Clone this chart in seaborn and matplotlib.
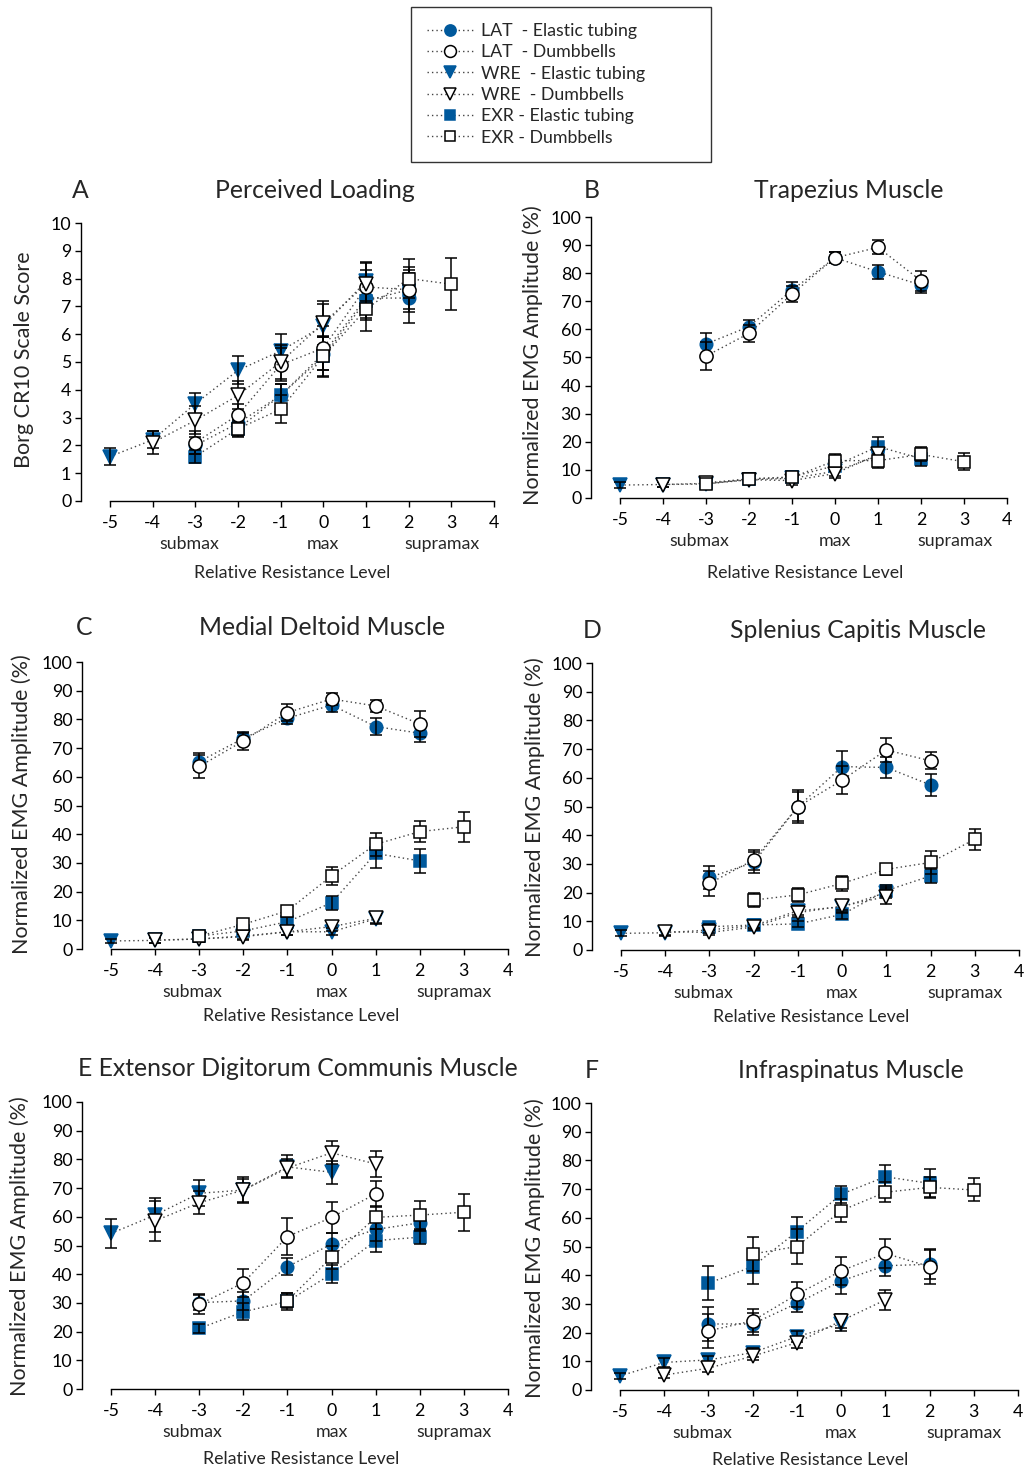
import numpy as np
import pandas as pd
import seaborn as sns
import matplotlib.pyplot as plt
from matplotlib.lines import Line2D

# relative resistance levels (x axis)
LEVELS = [-5, -4, -3, -2, -1, 0, 1, 2, 3]
_ = None

# A - Perceived Loading (Borg CR10)
A_LAT_E = [_, _, 2.0, 2.8, 3.8, 5.3, 7.3, 7.3, _]
A_LAT_E_SE = [_, _, .3, .3, .4, .6, .7, .9, _]
A_LAT_D = [_, _, 2.1, 3.1, 4.9, 5.5, 7.7, 7.6, _]
A_LAT_D_SE = [_, _, .4, .4, .6, .8, .6, .7, _]
A_WRE_E = [1.6, 2.2, 3.5, 4.7, 5.4, 6.3, 7.9, _, _]
A_WRE_E_SE = [.3, .3, .4, .5, .6, .8, .7, _, _]
A_WRE_D = [_, 2.1, 2.9, 3.8, 5.0, 6.4, 7.8, _, _]
A_WRE_D_SE = [_, .4, .5, .5, .6, .8, .75, _, _]
A_EXR_E = [_, _, 1.6, 2.6, 3.8, 5.2, 7.2, 7.6, _]
A_EXR_E_SE = [_, _, .25, .25, .4, .7, .7, .8, _]
A_EXR_D = [_, _, _, 2.6, 3.3, 5.2, 6.9, 8.0, 7.8]
A_EXR_D_SE = [_, _, _, .3, .5, .75, .8, .7, .93]

# B - Trapezius
B_LAT_E = [_, _, 54.8, 61.0, 74.0, 85.5, 80.5, 75.8, _]
B_LAT_E_SE = [_, _, 4, 2.5, 3, 2, 2.5, 3, _]
B_LAT_D = [_, _, 50.5, 58.6, 72.6, 85.5, 89.2, 77.3, _]
B_LAT_D_SE = [_, _, 5, 3, 3, 2, 2.5, 3.5, _]
B_WRE_E = [4.6, 4.8, 5.0, 6.5, 7.0, 9.5, 15.0, _, _]
B_WRE_E_SE = [1, 1, 1, 1, 1, 1.5, 2, _, _]
B_WRE_D = [_, 4.8, 5.2, 6.5, 6.2, 8.7, 15.5, _, _]
B_WRE_D_SE = [_, 1, 1, 1, 1.5, 1.5, 2, _, _]
B_EXR_E = [_, _, 5.4, 6.8, 7.5, 11.5, 18.3, 14.0, _]
B_EXR_E_SE = [_, _, 1, 1, 1, 2, 3.5, 2.5, _]
B_EXR_D = [_, _, 5.0, 6.8, 7.3, 13.3, 13.3, 15.5, 12.9]
B_EXR_D_SE = [_, _, 1, 1.5, 1.5, 2.5, 2.5, 2.5, 3]

# C - Medial Deltoid
C_LAT_E = [_, _, 65.3, 73.4, 80.4, 85.0, 77.5, 75.2, _]
C_LAT_E_SE = [_, _, 3, 2, 2, 2.5, 3, 3, _]
C_LAT_D = [_, _, 63.6, 72.5, 82.4, 87.1, 84.7, 78.4, _]
C_LAT_D_SE = [_, _, 4, 3, 3, 2, 2, 4.7, _]
C_WRE_E = [2.8, 3.0, 3.5, 4.5, 6.0, 6.0, 10.5, _, _]
C_WRE_E_SE = [.8, .8, 1, 1, 1, 1.2, 1.5, _, _]
C_WRE_D = [_, 3.1, 3.5, 4.3, 6.0, 7.8, 10.7, _, _]
C_WRE_D_SE = [_, 1, 1, 1, 1.2, 1.5, 2, _, _]
C_EXR_E = [_, _, 4.5, 6.3, 9.5, 16.1, 33.3, 30.7, _]
C_EXR_E_SE = [_, _, 1, 1.2, 1.5, 2.4, 5, 4.1, _]
C_EXR_D = [_, _, 4.5, 8.6, 13.3, 25.5, 36.5, 40.9, 42.6]
C_EXR_D_SE = [_, _, 1, 1.5, 1.5, 3.2, 4, 3.7, 5.2]

# D - Splenius Capitis
D_LAT_E = [_, _, 25.3, 30.5, 49.9, 63.9, 63.6, 57.5, _]
D_LAT_E_SE = [_, _, 4, 3.5, 5, 5.4, 3.5, 3.8, _]
D_LAT_D = [_, _, 23.2, 31.4, 49.9, 59.2, 69.7, 65.9, _]
D_LAT_D_SE = [_, _, 4.4, 3.5, 5.7, 4.8, 4.3, 3, _]
D_WRE_E = [5.8, 6.0, 7.0, 8.5, 13.7, 15.0, 20.0, _, _]
D_WRE_E_SE = [1, 1, 1, 1, 1.5, 2, 2, _, _]
D_WRE_D = [_, 6.4, 6.1, 8.0, 13.0, 15.3, 18.6, _, _]
D_WRE_D_SE = [_, 1, 1, 1, 1.5, 2, 2.5, _, _]
D_EXR_E = [_, _, 8.1, 8.7, 9.1, 12.4, 20.7, 25.8, _]
D_EXR_E_SE = [_, _, 1, 1, 1, 1.5, 2, 2.5, _]
D_EXR_D = [_, _, _, 17.4, 19.2, 23.2, 28.1, 30.5, 38.6]
D_EXR_D_SE = [_, _, _, 2.5, 2.5, 2.5, 2, 4, 3.7]

# E - Extensor Digitorum Communis
E_LAT_E = [_, _, 30.1, 30.7, 42.6, 50.5, 55.6, 57.9, _]
E_LAT_E_SE = [_, _, 2.5, 3, 3, 4, 4, 3, _]
E_LAT_D = [_, _, 29.5, 37.0, 53.1, 59.8, 68.0, _, _]
E_LAT_D_SE = [_, _, 3.5, 4.8, 6.4, 5.5, 4.5, _, _]
E_WRE_E = [54.2, 60.6, 68.2, 69.3, 77.4, 75.5, _, _, _]
E_WRE_E_SE = [5, 6, 4.5, 4.5, 4, 4, _, _, _]
E_WRE_D = [_, 58.6, 64.9, 69.3, 77.0, 82.3, 78.4, _, _]
E_WRE_D_SE = [_, 7, 4, 4, 3, 4, 4.5, _, _]
E_EXR_E = [_, _, 21.1, 26.9, 30.5, 40.1, 51.7, 52.9, _]
E_EXR_E_SE = [_, _, 1.5, 3, 3, 3, 4, 2.5, _]
E_EXR_D = [_, _, _, _, 30.8, 45.9, 59.8, 60.6, 61.6]
E_EXR_D_SE = [_, _, _, _, 2.5, 4, 4, 5, 6.4]

# F - Infraspinatus
F_LAT_E = [_, _, 23.0, 23.0, 30.2, 38.0, 43.3, 43.8, _]
F_LAT_E_SE = [_, _, 6, 4, 3, 4.5, 3.5, 5, _]
F_LAT_D = [_, _, 20.6, 24.1, 33.3, 41.5, 47.6, 43.0, _]
F_LAT_D_SE = [_, _, 6, 4, 4.5, 5, 5, 6, _]
F_WRE_E = [4.9, 9.6, 10.5, 13.0, 18.6, 23.0, _, _, _]
F_WRE_E_SE = [1, 1.5, 1.5, 1.5, 2, 2.5, _, _, _]
F_WRE_D = [_, 5.2, 7.6, 11.8, 16.5, 24.1, 31.4, _, _]
F_WRE_D_SE = [_, 1, 1.5, 1.5, 2, 2.5, 3.5, _, _]
F_EXR_E = [_, _, 37.2, 43.0, 55.2, 68.2, 74.3, 72.0, _]
F_EXR_E_SE = [_, _, 6, 6, 5, 3, 4, 5, _]
F_EXR_D = [_, _, _, 47.4, 50.0, 62.5, 68.9, 70.6, 69.7]
F_EXR_D_SE = [_, _, _, 6, 6, 4, 3.5, 3.5, 4]

SERIES = ["LAT  - Elastic tubing", "LAT  - Dumbbells", "WRE  - Elastic tubing",
          "WRE  - Dumbbells", "EXR - Elastic tubing", "EXR - Dumbbells"]
TITLES = ["Perceived Loading", "Trapezius Muscle", "Medial Deltoid Muscle",
          "Splenius Capitis Muscle", "Extensor Digitorum Communis Muscle",
          "Infraspinatus Muscle"]
LETTERS = ["A", "B", "C", "D", "E", "F"]

# ---- build a long table
g = globals()
rows = []
for letter in LETTERS:
    for name, key in zip(SERIES, ["LAT_E", "LAT_D", "WRE_E", "WRE_D", "EXR_E", "EXR_D"]):
        vals = g[f"{letter}_{key}"]
        errs = g[f"{letter}_{key}_SE"]
        for lv, v, e in zip(LEVELS, vals, errs):
            if v is not None:
                rows.append((letter, name, lv, v, e))
df = pd.DataFrame(rows, columns=["panel", "series", "level", "value", "se"])

BLUE = "#00599c"
LINE = "#444444"
DOT = (0, (1, 2.2))
STY = {
    SERIES[0]: dict(marker="o", ms=9, mfc=BLUE, mec=BLUE, z=3),
    SERIES[1]: dict(marker="o", ms=9.5, mfc="white", mec="black", z=5),
    SERIES[2]: dict(marker="v", ms=9.5, mfc=BLUE, mec=BLUE, z=3),
    SERIES[3]: dict(marker="v", ms=9.5, mfc="white", mec="black", z=5),
    SERIES[4]: dict(marker="s", ms=8, mfc=BLUE, mec=BLUE, z=3),
    SERIES[5]: dict(marker="s", ms=8, mfc="white", mec="black", z=5),
}

sns.set_theme(style="ticks")
plt.rcParams['font.family'] = ['Lato', 'DejaVu Sans']
plt.rcParams['axes.unicode_minus'] = False

W, H = 1026, 1468
fig = plt.figure(figsize=(W / 100, H / 100), dpi=100)

# axes boxes in pixels: x(-5), x(4), y(top), y(0)
BOXES = [(110, 494, 223, 501), (620, 1007, 217, 498),
         (111, 508, 662, 949), (621, 1019, 663, 950),
         (111, 508, 1102, 1389), (620, 1018, 1103, 1390)]
TITLE_POS = [((80, 190), (315, 190)), ((592, 190), (849, 190)),
             ((84, 627), (322, 627)), ((592, 631), (858, 631)),
             (None, (298, 1068)), ((592, 1070), (851, 1070))]
YLAB_POS = [(24, 360), (533, 355), (22, 804), (535, 807), (20, 1246), (535, 1248)]
XLAB_POS = [(292, 573), (805, 573), (301, 1016), (811, 1017), (301, 1459), (810, 1460)]
TITLE_FS = 17.8


def fx(x):
    return x / W


def fy(y):
    return 1 - y / H


for i, letter in enumerate(LETTERS):
    x0, x1, yt, yb = BOXES[i]
    ax = fig.add_axes([fx(x0), fy(yb), (x1 - x0) / W, (yb - yt) / H])
    ax.set_facecolor("white")
    ymax = 10 if letter == "A" else 100
    sub = df[df.panel == letter]
    for name in SERIES:
        s = sub[sub.series == name]
        st = STY[name]
        sns.lineplot(data=s, x="level", y="value", ax=ax, errorbar=None, color=LINE,
                     linestyle=DOT, linewidth=1.0, marker=st["marker"], markersize=st["ms"],
                     markerfacecolor=st["mfc"], markeredgecolor=st["mec"], markeredgewidth=1.1,
                     clip_on=False, zorder=st["z"])
        ax.errorbar(s.level, s.value, yerr=s.se, fmt="none", ecolor="black",
                    elinewidth=1.1, capsize=4, capthick=1.1, clip_on=False, zorder=4)
    ax.set_xlim(-5, 4)
    ax.set_ylim(0, ymax)
    ax.set_xticks(range(-5, 5))
    ax.set_yticks(np.arange(0, ymax + 0.01, ymax / 10))
    ax.set_yticklabels([str(int(t)) for t in np.arange(0, ymax + 0.01, ymax / 10)])
    ax.set_xlabel("")
    ax.set_ylabel("")
    sns.despine(ax=ax)
    ax.spines["left"].set_position(("outward", 29 * 0.72))
    for sp in ("left", "bottom"):
        ax.spines[sp].set_color("black")
        ax.spines[sp].set_linewidth(1.0)
    ax.tick_params(axis="both", direction="out", length=4, width=1, colors="black",
                   labelsize=12.8)
    ax.tick_params(axis="x", pad=6)
    ax.tick_params(axis="y", pad=3)
    for lab, xv in (("submax", -3.15), ("max", 0.0), ("supramax", 2.78)):
        ax.annotate(lab, xy=(xv, 0), xycoords=("data", "axes fraction"),
                    xytext=(0, -43 * 0.72), textcoords="offset points",
                    ha="center", va="center", fontsize=12.8)

    lp, tp = TITLE_POS[i]
    if lp is not None:
        fig.text(fx(lp[0]), fy(lp[1]), letter, ha="center", va="center", fontsize=TITLE_FS)
        fig.text(fx(tp[0]), fy(tp[1]), TITLES[i], ha="center", va="center", fontsize=TITLE_FS)
    else:
        fig.text(fx(tp[0]), fy(tp[1]), f"{letter} {TITLES[i]}", ha="center", va="center",
                 fontsize=TITLE_FS)
    ylab = "Borg CR10 Scale Score" if letter == "A" else "Normalized EMG Amplitude (%)"
    fig.text(fx(YLAB_POS[i][0]), fy(YLAB_POS[i][1]), ylab, rotation=90,
             ha="center", va="center", fontsize=15.5)
    fig.text(fx(XLAB_POS[i][0]), fy(XLAB_POS[i][1]), "Relative Resistance Level",
             ha="center", va="center", fontsize=12.8)

handles = [Line2D([0], [0], color=LINE, linestyle=DOT, linewidth=1.0,
                  marker=STY[n]["marker"], markersize=STY[n]["ms"] * 0.9,
                  markerfacecolor=STY[n]["mfc"], markeredgecolor=STY[n]["mec"],
                  markeredgewidth=1.1) for n in SERIES]
leg = fig.legend(handles, SERIES, loc="upper left",
                 bbox_to_anchor=(fx(411), fy(162), 300 / W, 155 / H), mode="expand",
                 frameon=True, fancybox=False, edgecolor="black", fontsize=12.8,
                 handlelength=2.6, handletextpad=0.45, labelspacing=0.3,
                 borderpad=0.9, borderaxespad=0)
leg.get_frame().set_linewidth(1.0)

fig.savefig("out.png", dpi=100, facecolor="white")
